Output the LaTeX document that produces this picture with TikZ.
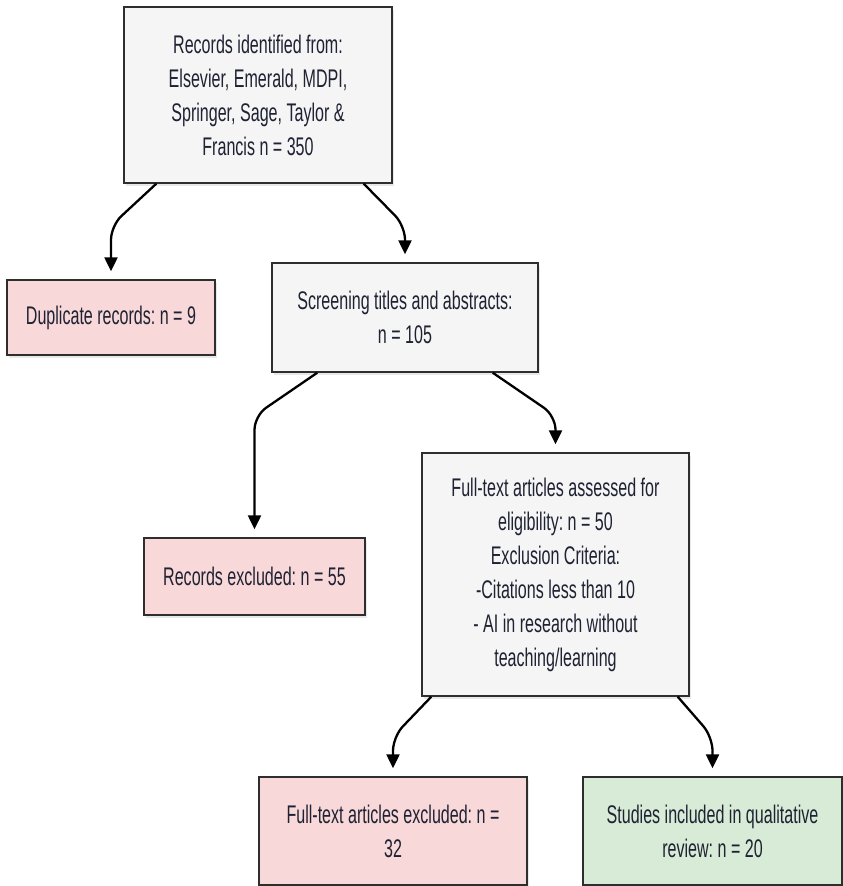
\documentclass[tikz,border=0pt]{standalone}
\usepackage{fontspec}
\setmainfont{Liberation Sans}[FakeStretch=0.63]
\usetikzlibrary{arrows.meta,calc,shadows}
\frenchspacing

\definecolor{boxgrey}{HTML}{F5F5F5}
\definecolor{boxpink}{HTML}{F8D8D8}
\definecolor{boxgreen}{HTML}{D8EBD6}
\definecolor{inkdark}{HTML}{1E2233}
\definecolor{edgegrey}{HTML}{2E2E2E}

\begin{document}
\begin{tikzpicture}[x=1pt,y=-1pt,
		box/.style={draw=edgegrey, line width=1.4pt, fill=boxgrey, inner sep=0pt,
			align=center, text=inkdark, font=\fontsize{25.5}{34}\selectfont,
			drop shadow={shadow xshift=2pt, shadow yshift=-3pt, opacity=0.18}},
		pinkbox/.style={box, fill=boxpink},
		greenbox/.style={box, fill=boxgreen},
		flow/.style={line width=2.3pt, rounded corners=14pt,
			-{Triangle[width=13pt,length=14pt]}, shorten >=8pt}]
				\useasboundingbox (0,0) rectangle (843,886);
				
				\node[box, minimum width=268, minimum height=176] (rec) at (258,95)
					{Records identified from:\\ Elsevier, Emerald, MDPI,\\ Springer, Sage, Taylor \&\\ Francis n = 350};
				\node[pinkbox, minimum width=208, minimum height=75] (dup) at (111,317.5)
					{Duplicate records: n = 9};
				\node[box, minimum width=266, minimum height=109] (scr) at (405,317.5)
					{Screening titles and abstracts:\\ n = 105};
				\node[pinkbox, minimum width=221, minimum height=77] (exc) at (254.5,576.5)
					{Records excluded: n = 55};
				\node[box, minimum width=267, minimum height=243] (full) at (555.5,574.5)
					{Full-text articles assessed for\\ eligibility: n = 50\\ Exclusion Criteria:\\ -Citations less than 10\\ - AI in research without\\ teaching/learning};
				\node[pinkbox, minimum width=268, minimum height=108] (fullexc) at (393,831)
					{Full-text articles excluded: n =\\ 32};
				\node[greenbox, minimum width=259, minimum height=108] (incl) at (712.5,831)
					{Studies included in qualitative\\ review: n = 20};
				
				% connectors
				\draw[flow] ([xshift=33pt]rec.south west) -- ($(rec.south -| dup.north)+(0,42)$) -- (dup.north);
				\draw[flow] ([xshift=-29pt]rec.south east) -- ($(rec.south -| scr.north)+(0,42)$) -- (scr.north);
				\draw[flow] ([xshift=46pt]scr.south west) -- ($(scr.south -| exc.north)+(0,43)$) -- (exc.north);
				\draw[flow] ([xshift=-46pt]scr.south east) -- ($(scr.south -| full.north)+(0,43)$) -- (full.north);
				\draw[flow] ([xshift=10pt]full.south west) -- ($(full.south -| fullexc.north)+(0,40)$) -- (fullexc.north);
				\draw[flow] ([xshift=-12pt]full.south east) -- ($(full.south -| incl.north)+(0,40)$) -- (incl.north);
			\end{tikzpicture}
\end{document}
